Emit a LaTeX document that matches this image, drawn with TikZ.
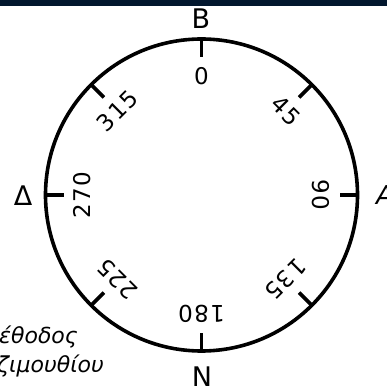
\documentclass[tikz,border=0pt]{standalone}
\usepackage{fontspec}
\setmainfont{DejaVu Sans}
\definecolor{navy}{RGB}{2,23,46}
\begin{document}
\begin{tikzpicture}[x=1pt,y=1pt,
  ring/.style={line width=3.6pt},
  tickline/.style={line width=3.6pt},
  deg/.style={font=\fontsize{23}{23}\selectfont\addfontfeature{LetterSpace=6}, inner sep=0pt},
  pole/.style={font=\fontsize{27}{27}\selectfont, inner sep=0pt},
  note/.style={font=\itshape\fontsize{22}{22}\selectfont, inner sep=0pt, anchor=base west}]
\useasboundingbox (0,0) rectangle (387,388);
\fill[navy] (0,382) rectangle (387,388);
\coordinate (c) at (201.5,193);
\draw[ring] (c) circle (156);
\foreach \a in {0,45,...,315}{
  \draw[tickline] ([shift={(90-\a:157)}]c) -- ([shift={(90-\a:138)}]c);
  \node[deg, rotate=-\a] (d\a) at ([shift={(90-\a:119)}]c) {\a};
}
\node[pole] (B) at (201,369) {B};
\node[pole] (N) at (202,11) {N};
\node[pole] (D) at (23,192) {Δ};
\node[pole, font=\itshape\fontsize{26}{26}\selectfont] (A) at (385,193) {A};
\node[note] (t1) at (-1,44) {έθοδος};
\node[note] (t2) at (-3,15) {ζιμουθίου};
\end{tikzpicture}
\end{document}
